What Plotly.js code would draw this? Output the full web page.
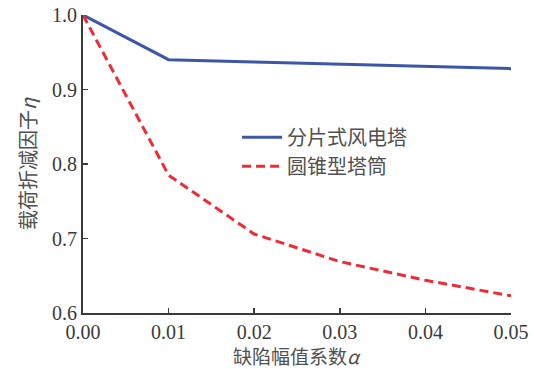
<!DOCTYPE html>
<html>
<head>
<meta charset="utf-8">
<script src="https://cdn.plot.ly/plotly-3.0.1.min.js"></script>
<style>html,body{margin:0;padding:0;background:#fff;}#chart{width:534px;height:369px;}</style>
</head>
<body>
<div id="chart"></div>
<script>
const alpha = [0.00, 0.01, 0.02, 0.03, 0.04, 0.05];
const segmented = [1.000, 0.940, 0.937, 0.934, 0.931, 0.928];
const conical = [1.000, 0.785, 0.706, 0.669, 0.644, 0.623];
const seriesNames = ['分片式风电塔', '圆锥型塔筒'];
const xTitle = '缺陷幅值系数<i>α</i>';
const yTitle = '载荷折减因子<i>η</i>';
const xTicks = [0.00, 0.01, 0.02, 0.03, 0.04, 0.05];
const xTickText = ['0.00', '0.01', '0.02', '0.03', '0.04', '0.05'];
const yTicks = [0.6, 0.7, 0.8, 0.9, 1.0];
const yTickText = ['0.6', '0.7', '0.8', '0.9', '1.0'];

const FONT = '"Liberation Serif", "Times New Roman", "Noto Sans CJK SC", serif';
const CJK = '"Noto Sans CJK SC", "Liberation Serif", sans-serif';

const traces = [
  {x: alpha, y: segmented, name: seriesNames[0], mode: 'lines', type: 'scatter',
   line: {color: '#3d57a8', width: 3}},
  {x: alpha, y: conical, name: seriesNames[1], mode: 'lines', type: 'scatter',
   line: {color: '#ee2b36', width: 3, dash: '9px,5px'}}
];

const layout = {
  width: 534, height: 369,
  margin: {l: 83, r: 23, t: 15, b: 56},
  paper_bgcolor: '#fff', plot_bgcolor: '#fff',
  font: {family: FONT, color: '#3a3a3a', size: 20},
  showlegend: true,
  legend: {x: 0.36, y: 0.655, xanchor: 'left', yanchor: 'top',
    font: {family: CJK, size: 20, color: '#505050'}, bgcolor: 'rgba(0,0,0,0)',
    tracegroupgap: 0, itemwidth: 40},
  xaxis: {
    range: [0, 0.05], tickvals: xTicks, ticktext: xTickText,
    showline: true, linecolor: '#3a3a3a', linewidth: 2, mirror: false,
    showgrid: false, zeroline: false, ticks: 'inside', ticklen: 5, tickwidth: 1.5, tickcolor: '#3a3a3a',
    tickfont: {family: FONT, size: 20, color: '#3a3a3a'}
  },
  yaxis: {
    range: [0.6, 1.0], tickvals: yTicks, ticktext: yTickText,
    showline: true, linecolor: '#3a3a3a', linewidth: 2, mirror: false,
    showgrid: false, zeroline: false, ticks: 'inside', ticklen: 5, tickwidth: 1.5, tickcolor: '#3a3a3a',
    tickfont: {family: FONT, size: 20, color: '#3a3a3a'}
  },
  annotations: [
    {text: xTitle, xref: 'paper', yref: 'paper', x: 0.5, y: 0, xanchor: 'center', yanchor: 'middle',
     yshift: -42, showarrow: false, font: {family: CJK, size: 19, color: '#505050'}},
    {text: yTitle, xref: 'paper', yref: 'paper', x: 0, y: 0.5, xanchor: 'center', yanchor: 'middle',
     xshift: -56, textangle: -90, showarrow: false, font: {family: CJK, size: 20, color: '#505050'}}
  ]
};

Plotly.newPlot('chart', traces, layout, {displayModeBar: false, staticPlot: true});
</script>
</body>
</html>
